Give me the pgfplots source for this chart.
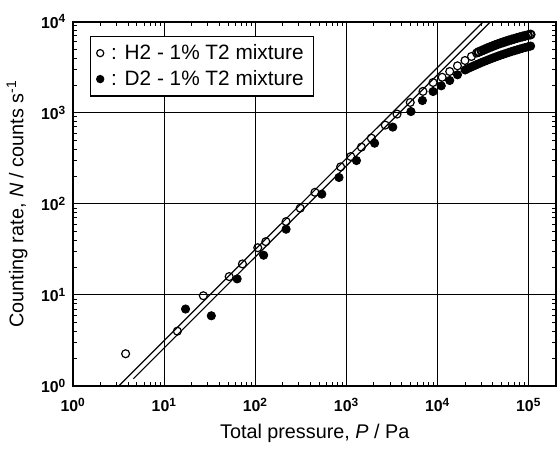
\documentclass[border=0pt]{standalone}
\usepackage{pgfplots}
\pgfplotsset{compat=1.18}
\usepackage{fontspec}
\setmainfont{Liberation Sans}
\newcommand{\dec}[1]{\textbf{10}\textsuperscript{\textbf{#1}}}
\begin{document}
\begin{tikzpicture}
\begin{axis}[
    name=ax,
    scale only axis,
    width=244pt, height=184pt,
    xmode=log, ymode=log,
    xmin=1, xmax=2e5,
    ymin=1, ymax=1e4,
    xtick={1,10,100,1000,10000,100000},
    xticklabels={\dec{0},\dec{1},\dec{2},\dec{3},\dec{4},\dec{5}},
    ytick={1,10,100,1000,10000},
    yticklabels={\dec{0},\dec{1},\dec{2},\dec{3},\dec{4}},
    ticklabel style={font=\fontsize{8}{8}\selectfont},
    xticklabel style={yshift=-2.5pt},
    xmajorgrids=true, ymajorgrids=true,
    grid style={black, line width=0.5pt},
    axis line style={line width=0.8pt},
    tick style={black, line width=0.5pt},
    major tick length=3pt, minor tick length=2pt,
    xlabel={Total pressure, \textit{P} / Pa},
    ylabel={Counting rate, \textit{N} / counts s\textsuperscript{-1}},
    label style={font=\fontsize{10}{12}\selectfont},
    xlabel style={yshift=0.5pt},
    legend cell align=left,
    legend style={at={(0.035,0.962)}, anchor=north west, draw=black,
        line width=0.6pt, font=\fontsize{10.5}{13}\selectfont,
        inner xsep=3pt, inner ysep=2pt, row sep=0pt},
    legend image code/.code={\draw[#1, mark size=1.8pt] plot coordinates {(0.25cm,0cm)};},
]
% H2 - 1% T2
\addplot[only marks, mark=o, mark size=2pt, black, line width=0.6pt] coordinates {
(3.76,2.26) (13.9,4.0) (26.8,9.8) (51.5,15.9) (72,21.9) (106,33) (130,38.5)
(217,63.9) (310,89.7) (450,134) (861,255) (1113,331) (1456,420) (1870,527)
(2657,733) (3580,968) (5000,1300) (6900,1720) (8900,2153) (11200,2456)
(13560,2844) (16500,3283) (19950,3755) (23500,4160) (26700,4530)
};
\addlegendentry{\,: H2 - 1\% T2 mixture}
% H2 - 1% T2, dense high-pressure part
\addplot[only marks, mark=o, mark size=2pt, black, line width=1pt, forget plot] coordinates {
(28184,4656) (30200,4797) (32359,4943) (34674,5093) (37154,5236) (39811,5383)
(42658,5534) (45709,5675) (48978,5821) (52481,5957) (56234,6095) (60256,6237)
(64565,6368) (69183,6501) (74131,6637) (79433,6761) (85114,6887) (91201,7015)
(97724,7129) (104713,7244)
};
% D2 - 1% T2
\addplot[only marks, mark=*, mark size=2.1pt, black] coordinates {
(17.1,7.0) (32.8,5.9) (63,15) (123,27.3) (217,52.7) (535,128) (826,195)
(1284,299) (2032,464) (3217,697) (5090,1033) (6800,1365) (8900,1714)
(10950,1980) (13560,2265) (16500,2618) (20000,2955)
(21380,3055) (22909,3155) (24547,3258) (26303,3357) (28184,3459) (30200,3565)
(32359,3664) (34674,3767) (37154,3873) (39811,3981) (42658,4083) (45709,4188)
(48978,4295) (52481,4395) (56234,4498) (60256,4603) (64565,4710) (69183,4808)
(74131,4909) (79433,5012) (85114,5117) (91201,5212) (97724,5309) (104713,5408)
};
\addlegendentry{\,: D2 - 1\% T2 mixture}
% fitted lines
\addplot[black, line width=0.6pt, forget plot] coordinates {(3.16,1) (31623,10000)};
\addplot[black, line width=0.6pt, forget plot] coordinates {(4.57,1.2) (38000,10000)};
\end{axis}
\path ([yshift=11pt]ax.north west);
\end{tikzpicture}
\end{document}
